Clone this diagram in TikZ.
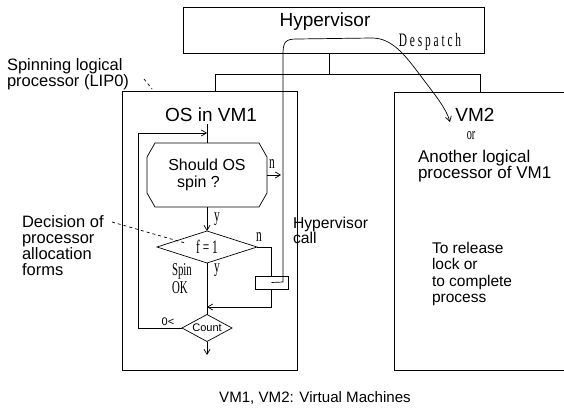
\documentclass[tikz,border=0pt]{standalone}
\usepackage{fontspec}
\setmainfont{Liberation Sans}
\newfontfamily\mincho[FakeStretch=0.6]{Liberation Serif}
\newfontfamily\minchowide[FakeStretch=0.6,LetterSpace=15]{Liberation Serif}
\usetikzlibrary{arrows.meta,calc}
\begin{document}
\begin{tikzpicture}[x=1pt,y=-1pt,line width=0.7pt,
  every node/.style={inner sep=0pt,outer sep=0pt},
  arr/.style={-{Straight Barb[length=5pt,width=6pt]}},
  big/.style={font=\fontsize{19}{22}\selectfont},
  lbl/.style={font=\fontsize{16.5}{16}\selectfont,align=left,anchor=west},
  serif/.style={font=\mincho\fontsize{19}{17}\selectfont},
  serifwide/.style={font=\minchowide\fontsize{19}{17}\selectfont},
  tiny/.style={font=\fontsize{11}{11}\selectfont}]
\useasboundingbox (0,0) rectangle (564,409);

% hypervisor and the two machine boxes
\node[draw,minimum width=301,minimum height=46] (hyp) at (333.5,30) {};
\node[big] (hyptxt) at (325,22) {Hypervisor};
\node[draw,minimum width=175,minimum height=279] (vm1) at (209.5,230.5) {};
\node[minimum width=170,minimum height=278] (vm2) at (479,231) {};
\draw (vm2.north east) -- (vm2.north west) -- (vm2.south west) -- (vm2.south east);

% bus between the hypervisor and the machines
\coordinate (busL) at (215,74);
\coordinate (busM) at (329,74);
\coordinate (busR) at (480,74);
\draw (hyp.south -| busM) -- (busM);
\draw (vm1.north -| busL) -- (busL) -- (busR) -- (vm2.north -| busR);

\node[big] (os) at (211,115) {OS in VM1};

% spin decision (octagon)
\node[font=\fontsize{16}{17}\selectfont,align=left,minimum width=120,minimum height=64] (oct) at (207,175) {Should OS\\\ \ spin ?};
\draw ($(oct.north west)+(8,0)$) -- ($(oct.north east)+(-8,0)$) -- ($(oct.north east)+(0,14)$)
  -- ($(oct.south east)+(0,-14)$) -- ($(oct.south east)+(-8,0)$) -- ($(oct.south west)+(8,0)$)
  -- ($(oct.south west)+(0,-14)$) -- ($(oct.north west)+(0,14)$) -- cycle;
\coordinate (entry) at (207,124);
\coordinate (loopTop) at (138,133);
\draw (entry) -- (oct.north);
\draw[arr] (loopTop) -- (loopTop -| oct.north);
\coordinate (nout) at (281,175);
\draw[arr] (oct.east) -- (nout);
\node[serif] at (272,164) {n};

% f=1 decision
\node[serifwide,minimum width=100,minimum height=32] (dia) at (207,247) {f=1};
\draw (dia.north) -- (dia.east) -- (dia.south) -- (dia.west) -- cycle;
\draw[arr] (oct.south) -- (dia.north);
\node[serif] at (217,219) {y};
\node[serif] at (259,237) {n};
\node[serif,font=\mincho\fontsize{18}{18}\selectfont,align=left,anchor=west] at (172,279) {Spin\\OK};
\node[serif] at (217,270) {y};

% hypervisor call box
\node[draw,minimum width=33,minimum height=13] (hc) at (271.5,282.5) {};
\draw (dia.east) -| (hc.north);
\coordinate (merge) at (207,307);
\draw[arr] (hc.south) |- (merge);

% counter and loop back
\node[tiny,minimum width=50,minimum height=27] (cnt) at (207,328) {Count};
\draw (cnt.north) -- (cnt.east) -- (cnt.south) -- (cnt.west) -- cycle;
\draw (dia.south) -- (cnt.north);
\coordinate (loopBot) at (138,328);
\draw (cnt.west) -- (loopBot) -- (loopTop);
\node[tiny] at (168,322) {0<};
\coordinate (exit) at (207,355);
\draw[arr] (cnt.south) -- (exit);

% despatch path through the hypervisor
\coordinate (hcA) at (283,282);
\coordinate (desp) at (450,122);
\draw[arr] (hc.center) -- (hcA) -- (283,55) .. controls (283,42) and (285,39) .. (297,39)
  -- (372,38) .. controls (392,38) and (405,55) .. (420,75)
  .. controls (435,95) and (446,108) .. (desp);
\node[serifwide] at (430,42) {Despatch};

% right-hand machine
\node[big] (vm2lbl) at (475,115) {VM2};
\node[serif,font=\mincho\fontsize{17}{17}\selectfont] at (471,136) {or};
\node[lbl,font=\fontsize{17}{16}\selectfont] at (418,166) {Another logical\\processor of VM1};
\node[lbl,font=\fontsize{15.5}{16.5}\selectfont] at (432,274) {To release\\lock or\\to complete\\process};
\node[lbl,font=\fontsize{15.7}{15}\selectfont] at (293,230) {Hypervisor\\call};

% side annotations
\node[lbl] (spinlbl) at (7,74) {Spinning logical\\processor (LIP0)};
\coordinate (spinPt) at (144,79);
\coordinate (spinEnd) at (152,89);
\draw[dashed] (spinPt) -- (spinEnd);
\node[lbl] (dec) at (22,246) {Decision of\\processor\\allocation\\forms};
\coordinate (decPt) at (112,222);
\draw[dashed] (decPt) -- ($(dia.center)+(-22,-4)$);

\node[font=\fontsize{15.1}{16}\selectfont] (cap) at (315,398) {VM1, VM2: Virtual Machines};
\end{tikzpicture}
\end{document}
